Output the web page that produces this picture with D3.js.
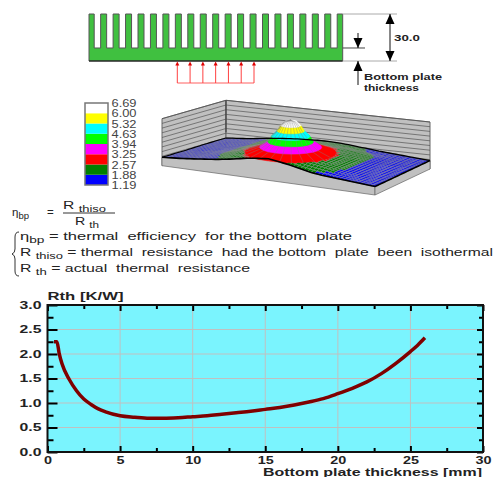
<!DOCTYPE html>
<html>
<head>
<meta charset="utf-8">
<style>
    html, body { margin: 0; padding: 0; background: white; }
    svg { display: block; }
    text { font-family: "Liberation Sans", sans-serif; }
    .bold { font-family: "Liberation Sans", sans-serif; font-weight: bold; fill: #222; }
</style>
</head>
<body>
<svg id="chart" width="503" height="477"></svg>
<script src="https://d3js.org/d3.v7.min.js"></script>
<script>
// Rth curve
var thickness = [0.45, 0.65, 0.8, 1, 1.5, 2, 2.5, 3, 3.5, 4, 5, 6, 7, 8, 9, 10, 11, 12, 13, 14, 15, 16, 17, 18, 19, 20, 21, 22, 23, 24, 25, 25.5, 26];
var rth = [2.25, 2.25, 2.02, 1.8, 1.48, 1.25, 1.08, 0.97, 0.88, 0.82, 0.74, 0.71, 0.69, 0.69, 0.7, 0.72, 0.74, 0.77, 0.8, 0.83, 0.87, 0.91, 0.96, 1.02, 1.09, 1.19, 1.3, 1.43, 1.6, 1.81, 2.05, 2.18, 2.33];
var xTicks = [0, 5, 10, 15, 20, 25, 30];
var xMinor = [2.5, 7.5, 12.5, 17.5, 22.5, 27.5];
var yTicks = [0, 0.5, 1, 1.5, 2, 2.5, 3];
var yMinor = [0.25, 0.75, 1.25, 1.75, 2.25, 2.75];

// Legend, lowest first
var legendValues = [1.19, 1.88, 2.57, 3.25, 3.94, 4.63, 5.32, 6.00, 6.69];
var legendLabels = ["1.19", "1.88", "2.57", "3.25", "3.94", "4.63", "5.32", "6.00", "6.69"];
var legendColors = ["#0000ff", "#008000", "#ff0000", "#ff00ff", "#00ff00", "#00ffff", "#ffff00", "#ffffff"];

// Temperature over the bottom plate, front row first, left to right (hot spot itself is below)
var plate = [
    [1.19, 1.30, 1.40, 1.55, 1.70, 1.85, 2.05, 2.30, 2.55, 2.72, 2.85, 2.65, 2.45, 2.15, 1.87, 1.70, 1.60, 1.50, 1.40, 1.30, 1.20],
    [1.20, 1.30, 1.40, 1.55, 1.75, 1.95, 2.30, 2.55, 2.95, 3.10, 3.15, 3.10, 2.95, 2.55, 2.35, 2.10, 1.80, 1.55, 1.40, 1.30, 1.20],
    [1.22, 1.30, 1.40, 1.55, 1.80, 2.10, 2.50, 2.90, 3.10, 3.20, 3.20, 3.20, 3.10, 2.90, 2.50, 2.20, 1.85, 1.60, 1.45, 1.30, 1.20],
    [1.22, 1.30, 1.40, 1.55, 1.80, 2.05, 2.55, 3.00, 3.20, 3.20, 3.20, 3.20, 3.20, 3.00, 2.55, 2.20, 1.85, 1.60, 1.45, 1.30, 1.20],
    [1.25, 1.35, 1.45, 1.60, 1.80, 2.10, 2.45, 2.90, 3.10, 3.20, 3.20, 3.20, 3.10, 2.90, 2.50, 2.20, 1.85, 1.60, 1.45, 1.30, 1.20],
    [1.28, 1.38, 1.48, 1.62, 1.80, 2.00, 2.30, 2.55, 2.95, 3.10, 3.15, 3.10, 2.95, 2.55, 2.35, 2.10, 1.85, 1.60, 1.45, 1.30, 1.20],
    [1.30, 1.40, 1.50, 1.65, 1.82, 2.00, 2.20, 2.40, 2.50, 2.58, 2.60, 2.58, 2.50, 2.40, 2.25, 2.05, 1.85, 1.60, 1.45, 1.30, 1.20],
    [1.30, 1.40, 1.50, 1.65, 1.80, 1.97, 2.10, 2.25, 2.32, 2.38, 2.40, 2.35, 2.25, 2.10, 1.95, 1.80, 1.65, 1.55, 1.40, 1.30, 1.20],
    [1.30, 1.40, 1.50, 1.65, 1.80, 1.95, 2.05, 2.15, 2.20, 2.25, 2.25, 2.20, 2.10, 1.95, 1.85, 1.70, 1.60, 1.50, 1.40, 1.30, 1.20]
];

// Hot spot: temperature and relative contour radius
var peakTemps = [2.57, 3.25, 3.94, 4.63, 5.32, 6.00, 6.50, 6.69];
var peakRadius = [1.0, 0.68, 0.5, 0.42, 0.3, 0.22, 0.13, 0.0];

// Heat sink
var finIndex = d3.range(21);
var arrowIndex = d3.range(7);
var wallLines = d3.range(1, 11);

// Formula text
var fractionTop = ["R ", "thiso"];
var fractionBottom = ["R ", "th"];
var defLines = [
    { sym: "η", sub: "bp", rest: " = thermal  efficiency  for the bottom  plate", len: 332, y: 240 },
    { sym: "R ", sub: "thiso", rest: " = thermal  resistance  had the bottom  plate  been  isothermal", len: 473, y: 256 },
    { sym: "R ", sub: "th", rest: " = actual  thermal  resistance", len: 230, y: 272 }
];

var svg = d3.select("#chart");

// wide text, the original font is stretched
function wide(t, len) {
    return t.attr("textLength", len).attr("lengthAdjust", "spacingAndGlyphs");
}

// ---- heat sink ----
var finX = d3.scaleLinear().domain([0, 20]).range([91.2, 340.2]);
var sinkY = d3.scaleLinear().domain([0, 30]).range([61, 14]);
var baseThick = 8.3;
var sinkLeft = 89, sinkRight = 342.7;

var p = "M" + sinkLeft + "," + sinkY(0) + "L" + sinkLeft + "," + sinkY(30);
finIndex.forEach(function(i) {
    var a = Math.max(sinkLeft, finX(i) - 3);
    var b = Math.min(sinkRight, finX(i) + 3);
    p += "L" + a + "," + sinkY(30) + "L" + b + "," + sinkY(30);
    if (i < 20) {
        p += "L" + b + "," + sinkY(baseThick) + "L" + (finX(i + 1) - 3) + "," + sinkY(baseThick);
    }
});
p += "L" + sinkRight + "," + sinkY(0) + "Z";
svg.append("path").attr("d", p).attr("fill", "#40c040").attr("stroke", "#555").attr("stroke-width", 1);
svg.append("line").attr("x1", sinkLeft).attr("x2", sinkRight).attr("y1", sinkY(0)).attr("y2", sinkY(0)).attr("stroke", "#111");

// red arrows
var arrowX = d3.scaleLinear().domain([0, 6]).range([177.3, 254]);
svg.append("line").attr("x1", arrowX(0)).attr("x2", arrowX(6)).attr("y1", 83).attr("y2", 83).attr("stroke", "#ff6060");
svg.selectAll(".heat").data(arrowIndex).enter().append("line")
    .attr("x1", arrowX).attr("x2", arrowX).attr("y1", 64).attr("y2", 83).attr("stroke", "#ff4040");
svg.selectAll(".heatHead").data(arrowIndex).enter().append("path")
    .attr("d", function(i) { var x = arrowX(i); return "M" + x + ",61.5L" + (x - 2) + ",65.5L" + (x + 2) + ",65.5Z"; })
    .attr("fill", "#e00000");

// dimensions
function hLine(x1, x2, y, col) {
    svg.append("line").attr("x1", x1).attr("x2", x2).attr("y1", y).attr("y2", y).attr("stroke", col);
}
function vLine(x, y1, y2) {
    svg.append("line").attr("x1", x).attr("x2", x).attr("y1", y1).attr("y2", y2).attr("stroke", "#111");
}
function head(x, tip, dir) {
    svg.append("path")
        .attr("d", "M" + x + "," + tip + "L" + (x - 4.5) + "," + (tip + dir * 10) + "L" + (x + 4.5) + "," + (tip + dir * 10) + "Z")
        .attr("fill", "#000");
}
hLine(sinkRight, 397, sinkY(30), "#aaa");
hLine(sinkRight, 397, sinkY(0), "#aaa");
hLine(sinkRight, 365, sinkY(baseThick), "#444");
vLine(390, sinkY(30), sinkY(0));
head(390, sinkY(30), 1);
head(390, sinkY(0), -1);
vLine(358, 33, sinkY(baseThick));
head(358, sinkY(baseThick), -1);
vLine(358, sinkY(0), 85);
head(358, sinkY(0), 1);

wide(svg.append("text").attr("class", "bold").attr("x", 394).attr("y", 41).attr("font-size", 9.5), 26).text("30.0");
wide(svg.append("text").attr("class", "bold").attr("x", 364).attr("y", 80).attr("font-size", 9.5), 78).text("Bottom plate");
wide(svg.append("text").attr("class", "bold").attr("x", 364).attr("y", 91).attr("font-size", 9.5), 55).text("thickness");

// ---- legend ----
var legendY = d3.scalePoint().domain(legendValues).range([185, 103]);
svg.selectAll(".band").data(legendColors).enter().append("rect")
    .attr("x", 85).attr("width", 23)
    .attr("y", function(d, i) { return legendY(legendValues[i + 1]); })
    .attr("height", function(d, i) { return legendY(legendValues[i]) - legendY(legendValues[i + 1]); })
    .attr("fill", function(d) { return d; });
svg.append("rect").attr("x", 85).attr("y", 103).attr("width", 23).attr("height", 82)
    .attr("fill", "none").attr("stroke", "#777").attr("stroke-width", 1.5);
svg.selectAll(".legendLabel").data(legendLabels).enter().append("text")
    .attr("x", 111.5)
    .attr("y", function(d, i) { return legendY(legendValues[i]) + 4; })
    .attr("font-size", 10).attr("fill", "#444").attr("textLength", 25).attr("lengthAdjust", "spacingAndGlyphs")
    .text(function(d) { return d; });

// ---- 3D plate ----
var corner = { fl: [162, 165.7], fr: [375, 195], bl: [226, 147.3], br: [430, 169] };
var lift = d3.scaleLinear().domain([1.19, 6.69]).range([8.4, 52]);
var bandColor = d3.scaleThreshold().domain(legendValues.slice(1, -1)).range(legendColors);
var nCol = plate[0].length - 1, nRow = plate.length - 1;

function project(u, v, z) {
    var fx = corner.fl[0] + (corner.fr[0] - corner.fl[0]) * u, fy = corner.fl[1] + (corner.fr[1] - corner.fl[1]) * u;
    var bx = corner.bl[0] + (corner.br[0] - corner.bl[0]) * u, by = corner.bl[1] + (corner.br[1] - corner.bl[1]) * u;
    return [fx + (bx - fx) * v, fy + (by - fy) * v - z];
}
function tempAt(u, v) {
    var c = Math.min(nCol - 1e-6, u * nCol), r = Math.min(nRow - 1e-6, v * nRow);
    var c0 = Math.floor(c), r0 = Math.floor(r), a = c - c0, b = r - r0;
    var t0 = plate[r0][c0] + (plate[r0][c0 + 1] - plate[r0][c0]) * a;
    var t1 = plate[r0 + 1][c0] + (plate[r0 + 1][c0 + 1] - plate[r0 + 1][c0]) * a;
    return t0 + (t1 - t0) * b;
}
var line = d3.line();
var wallTop = 47;

// walls
var wallPts = [[0, 0], [0, 1], [1, 1]];
svg.append("path")
    .attr("d", line([project(0, 0, 0), project(0, 1, 0), project(0, 1, wallTop), project(0, 0, wallTop)]) + "Z")
    .attr("fill", "#c0c0c0").attr("stroke", "#666");
svg.append("path")
    .attr("d", line([project(0, 1, 0), project(1, 1, 0), project(1, 1, wallTop), project(0, 1, wallTop)]) + "Z")
    .attr("fill", "#c0c0c0").attr("stroke", "#666");
wallLines.forEach(function(k) {
    var z = wallTop * k / 10;
    svg.append("path").attr("d", line(wallPts.map(function(q) { return project(q[0], q[1], z); })))
        .attr("fill", "none").attr("stroke", "#555").attr("stroke-width", 0.7);
});
svg.append("path").attr("d", line([project(0, 1, 15), project(0, 1, wallTop)])).attr("stroke", "#444").attr("stroke-width", 1.2);

// skirts
var stepsU = d3.range(0, nCol * 3 + 1).map(function(i) { return i / (nCol * 3); });
var stepsV = d3.range(0, nRow * 3 + 1).map(function(i) { return i / (nRow * 3); });
var frontEdge = stepsU.map(function(u) { return project(u, 0, lift(tempAt(u, 0))); });
var rightEdge = stepsV.map(function(v) { return project(1, v, lift(tempAt(1, v))); });
svg.append("path").attr("d", line([project(0, 0, 0), project(1, 0, 0)].concat(frontEdge.slice().reverse())) + "Z")
    .attr("fill", "#c0c0c0").attr("stroke", "#666").attr("stroke-width", 0.7);
svg.append("path").attr("d", line([project(1, 0, 0), project(1, 1, 0)].concat(rightEdge.slice().reverse())) + "Z")
    .attr("fill", "#c0c0c0").attr("stroke", "#666").attr("stroke-width", 0.7);

// surface, back to front
var surface = svg.append("g");
for (var r = stepsV.length - 2; r >= 0; r--) {
    for (var c = 0; c < stepsU.length - 1; c++) {
        var u0 = stepsU[c], u1 = stepsU[c + 1], v0 = stepsV[r], v1 = stepsV[r + 1];
        var mid = tempAt((u0 + u1) / 2, (v0 + v1) / 2);
        var quad = [[u0, v0], [u1, v0], [u1, v1], [u0, v1]].map(function(q) {
            return project(q[0], q[1], lift(tempAt(q[0], q[1])));
        });
        surface.append("path").attr("d", line(quad) + "Z")
            .attr("fill", bandColor(mid))
            .attr("stroke", "#909090").attr("stroke-width", 0.4);
    }
}

// hot spot, a stack of rings
var peakU = 0.5, peakV = 0.375, peakRu = 0.19, peakRv = 0.38;
var angles = d3.range(0, 360, 15).map(function(d) { return d * Math.PI / 180; });
function ringPoint(k, a) {
    var v = Math.max(0, peakV + peakRadius[k] * peakRv * Math.sin(a));
    return project(peakU + peakRadius[k] * peakRu * Math.cos(a), v, lift(peakTemps[k]));
}
peakTemps.slice(0, -1).forEach(function(t, k) {
    var pts = angles.map(function(a) { return ringPoint(k, a); }).concat(angles.map(function(a) { return ringPoint(k + 1, a); }));
    svg.append("path").attr("d", line(d3.polygonHull(pts)) + "Z")
        .attr("fill", bandColor(t + 0.01)).attr("stroke", bandColor(t + 0.01)).attr("stroke-width", 0.4);
    // mesh on the side that faces us
    angles.filter(function(a) { return Math.sin(a) < 0.2; }).forEach(function(a) {
        svg.append("path").attr("d", line([ringPoint(k, a), ringPoint(k + 1, a)]))
            .attr("stroke", "#808080").attr("stroke-width", 0.4);
    });
    var front = angles.filter(function(a) { return a >= Math.PI; }).concat([0]).map(function(a) { return ringPoint(k + 1, a); });
    svg.append("path").attr("d", line(front)).attr("fill", "none").attr("stroke", "#808080").attr("stroke-width", 0.4);
});

// edge of the plate
var outline = frontEdge.concat(rightEdge);
svg.append("path").attr("d", line(outline)).attr("fill", "none").attr("stroke", "#000").attr("stroke-width", 1.6);
var backEdge = stepsU.map(function(u) { return project(u, 1, lift(tempAt(u, 1))); });
var leftEdge = stepsV.map(function(v) { return project(0, v, lift(tempAt(0, v))); });
svg.append("path").attr("d", line(backEdge)).attr("fill", "none").attr("stroke", "#000").attr("stroke-width", 1.3);
svg.append("path").attr("d", line(leftEdge)).attr("fill", "none").attr("stroke", "#000").attr("stroke-width", 1.1);

// ---- formula ----
function subText(x, y, big, sub, len) {
    var t = svg.append("text").attr("x", x).attr("y", y).attr("font-size", 11.5).attr("fill", "#222");
    if (len) wide(t, len);
    t.append("tspan").text(big);
    t.append("tspan").attr("dy", 2.5).attr("font-size", 9.5).text(sub);
    return t;
}
subText(12, 216, "η", "bp");
svg.append("text").attr("x", 47).attr("y", 216).attr("font-size", 11.5).attr("fill", "#222").text("=");
subText(63, 209, fractionTop[0], fractionTop[1], 43);
svg.append("line").attr("x1", 63).attr("x2", 115).attr("y1", 213).attr("y2", 213).attr("stroke", "#333");
subText(75, 225, fractionBottom[0], fractionBottom[1], 24);

defLines.forEach(function(d) {
    var t = svg.append("text").attr("x", 20).attr("y", d.y).attr("font-size", 11.5).attr("fill", "#222")
        .style("white-space", "pre");
    wide(t, d.len);
    t.append("tspan").text(d.sym);
    t.append("tspan").attr("dy", 2.5).attr("font-size", 9.5).text(d.sub);
    t.append("tspan").attr("dy", -2.5).text(d.rest);
});
svg.append("path")
    .attr("d", "M19,232 Q15,232 15,237 L15,249 Q15,253 12,254 Q15,255 15,259 L15,271 Q15,276 19,276")
    .attr("fill", "none").attr("stroke", "#333");

// ---- Rth plot ----
var x = d3.scaleLinear().domain([0, 30]).range([47.5, 483]);
var y = d3.scaleLinear().domain([0, 3]).range([452, 305]);

svg.append("rect").attr("x", x(0)).attr("y", y(3)).attr("width", x(30) - x(0)).attr("height", y(0) - y(3)).attr("fill", "#7af4fe");

svg.append("g").selectAll("line").data(xTicks.slice(1, -1)).enter().append("line")
    .attr("x1", x).attr("x2", x).attr("y1", y(0)).attr("y2", y(3)).attr("stroke", "#c0c0c0");
svg.append("g").selectAll("line").data(yTicks.slice(1, -1)).enter().append("line")
    .attr("y1", y).attr("y2", y).attr("x1", x(0)).attr("x2", x(30)).attr("stroke", "#c0c0c0");

function styleAxis(g, labelWidth) {
    g.select(".domain").remove();
    g.selectAll("line").attr("stroke", "#000").attr("stroke-width", 2);
    if (labelWidth) {
        g.selectAll("text").attr("class", "bold").attr("font-size", 10).attr("font-family", null).attr("fill", null)
            .attr("lengthAdjust", "spacingAndGlyphs")
            .attr("textLength", function() { return this.textContent.length * labelWidth; });
    } else {
        g.selectAll("text").remove();
    }
}
var xMajor = d3.axisBottom(x).tickValues(xTicks).tickSize(-6).tickPadding(5).tickFormat(d3.format("d"));
var yMajor = d3.axisLeft(y).tickValues(yTicks).tickSize(-10).tickPadding(6).tickFormat(d3.format(".1f"));

svg.append("g").attr("transform", "translate(0," + y(0) + ")").call(xMajor).call(styleAxis, 8);
svg.append("g").attr("transform", "translate(0," + y(3) + ")").call(d3.axisTop(x).tickValues(xTicks).tickSize(-6)).call(styleAxis);
svg.append("g").attr("transform", "translate(0," + y(0) + ")").call(d3.axisBottom(x).tickValues(xMinor).tickSize(-4)).call(styleAxis);
svg.append("g").attr("transform", "translate(0," + y(3) + ")").call(d3.axisTop(x).tickValues(xMinor).tickSize(-4)).call(styleAxis);
svg.append("g").attr("transform", "translate(" + x(0) + ",0)").call(yMajor).call(styleAxis, 7.3);
svg.append("g").attr("transform", "translate(" + x(0) + ",0)").call(d3.axisLeft(y).tickValues(yMinor).tickSize(-6)).call(styleAxis);
svg.append("g").attr("transform", "translate(" + x(30) + ",0)").call(d3.axisRight(y).tickValues(yTicks).tickSize(-6)).call(styleAxis);
svg.append("g").attr("transform", "translate(" + x(30) + ",0)").call(d3.axisRight(y).tickValues(yMinor).tickSize(-4)).call(styleAxis);

svg.append("rect").attr("x", x(0)).attr("y", y(3)).attr("width", x(30) - x(0)).attr("height", y(0) - y(3))
    .attr("fill", "none").attr("stroke", "#111").attr("stroke-width", 2);

svg.append("path")
    .attr("d", d3.line().x(function(d) { return x(d); }).y(function(d, i) { return y(rth[i]); }).curve(d3.curveMonotoneX)(thickness))
    .attr("fill", "none").attr("stroke", "#800000").attr("stroke-width", 3.5);

wide(svg.append("text").attr("class", "bold").attr("x", 47.5).attr("y", 300).attr("font-size", 10.5), 76).text("Rth [K/W]");
wide(svg.append("text").attr("class", "bold").attr("x", 263).attr("y", 476).attr("font-size", 10), 219).text("Bottom plate thickness [mm]");
</script>
</body>
</html>
